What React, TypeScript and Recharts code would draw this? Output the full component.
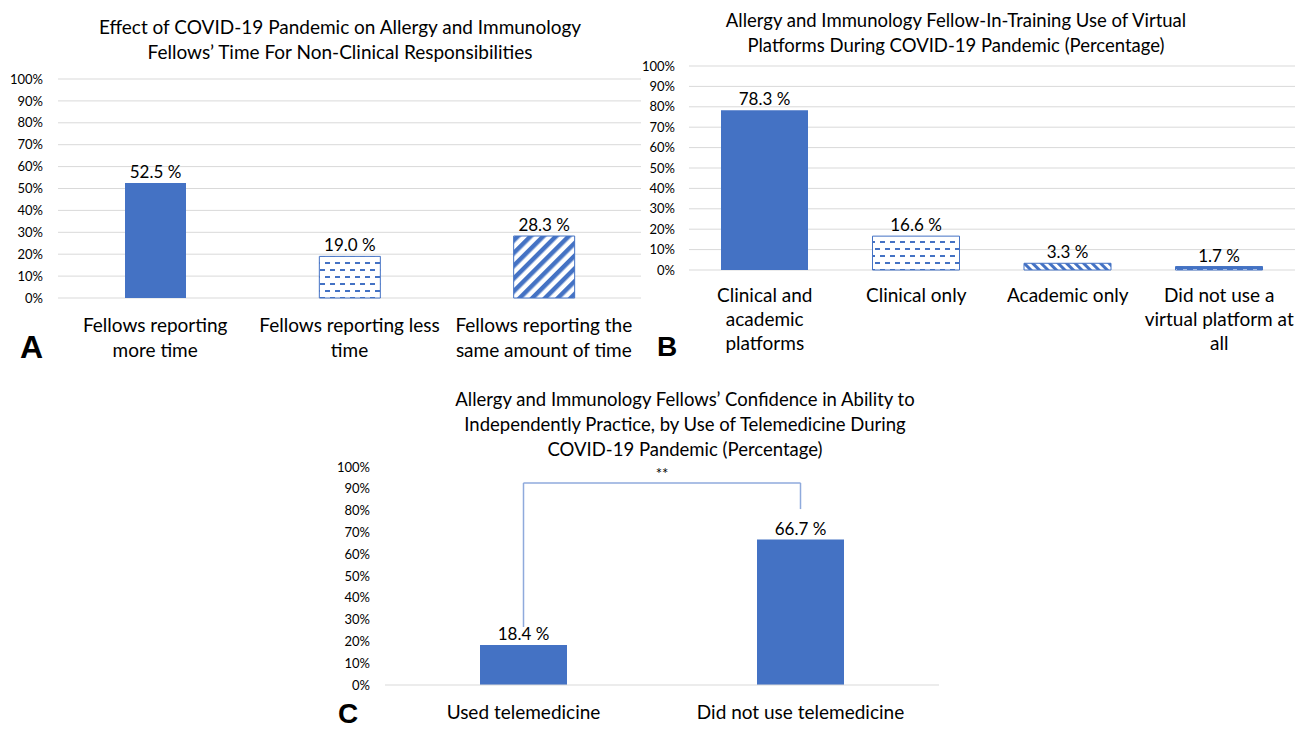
import React from 'react';
import { BarChart, Bar, XAxis, YAxis, CartesianGrid, Cell, LabelList, ReferenceLine } from 'recharts';

// Panel A
const timeLabelLines = [
  ['Fellows reporting', 'more time'],
  ['Fellows reporting less', 'time'],
  ['Fellows reporting the', 'same amount of time'],
];
const timeValues = [52.5, 19.0, 28.3];
const timeFills = ['#4472C4', 'url(#dashH)', 'url(#diagUp)'];

// Panel B
const platformLabelLines = [
  ['Clinical and', 'academic', 'platforms'],
  ['Clinical only'],
  ['Academic only'],
  ['Did not use a', 'virtual platform at', 'all'],
];
const platformValues = [78.3, 16.6, 3.3, 1.7];
const platformFills = ['#4472C4', 'url(#dashH)', 'url(#diagDown)', 'url(#blueDash)'];

// Panel C
const teleCategories = ['Used telemedicine', 'Did not use telemedicine'];
const teleValues = [18.4, 66.7];
const bracketTop = 92.7;
const bracketLeftEnd = 26.6;
const bracketRightEnd = 80.7;

const percentTicks = [0, 10, 20, 30, 40, 50, 60, 70, 80, 90, 100];

const FONT = 'Lato, "Open Sans", sans-serif';
const BLUE = '#4472C4';
const GRID = '#d9d9d9';

const timeData = timeLabelLines.map((l, i) => ({ name: l.join(' '), value: timeValues[i] }));
const platformData = platformLabelLines.map((l, i) => ({ name: l.join(' '), value: platformValues[i] }));
const teleData = teleCategories.map((c, i) => ({ name: c, value: teleValues[i] }));

const Patterns = () => (
  <defs>
    <pattern id="dashH" width="10" height="14" patternUnits="userSpaceOnUse">
      <rect width="10" height="14" fill="#fff" />
      <rect x="0" y="3" width="5" height="2" fill={BLUE} />
      <rect x="5" y="10" width="5" height="2" fill={BLUE} />
    </pattern>
    <pattern id="diagUp" width="9" height="9" patternUnits="userSpaceOnUse" patternTransform="rotate(45)">
      <rect width="9" height="9" fill="#fff" />
      <rect x="0" y="0" width="4.5" height="9" fill={BLUE} />
    </pattern>
    <pattern id="diagDown" width="6" height="6" patternUnits="userSpaceOnUse" patternTransform="rotate(-45)">
      <rect width="6" height="6" fill="#fff" />
      <rect x="0" y="0" width="3" height="6" fill={BLUE} />
    </pattern>
    <pattern id="blueDash" width="10" height="4" patternUnits="userSpaceOnUse">
      <rect width="10" height="4" fill={BLUE} />
      <rect x="3" y="1" width="4" height="2" fill="#fff" />
    </pattern>
  </defs>
);

const makeTick = (lines: string[][], firstDy: number, lineH: number) => (props: any) => {
  const { x, y, payload } = props;
  const rows = lines[payload.index] || [String(payload.value)];
  return (
    <text x={x} y={y} textAnchor="middle" fill="#000" fontSize={19} fontFamily={FONT}>
      {rows.map((r, i) => (
        <tspan key={i} x={x} dy={i === 0 ? firstDy : lineH}>{r}</tspan>
      ))}
    </text>
  );
};

const valueLabel = (v: any) => `${Number(v).toFixed(1)} %`;

const titleStyle: React.CSSProperties = {
  position: 'absolute', textAlign: 'center', fontFamily: FONT, fontSize: 18.5, lineHeight: '25px', color: '#000',
};
const letterStyle: React.CSSProperties = {
  position: 'absolute', fontFamily: '"Liberation Sans", Arial, sans-serif', fontWeight: 'bold', color: '#000', lineHeight: 1,
};
const yTick = { fontSize: 13, fill: '#000', fontFamily: FONT };

export default function App() {
  return (
    <div style={{ position: 'absolute', left: 0, top: 0, width: 1297, height: 732, background: '#fff', overflow: 'hidden' }}>
      <div style={{ ...titleStyle, left: 40, top: 14, width: 600, fontSize: 19 }}>
        Effect of COVID-19 Pandemic on Allergy and Immunology<br />Fellows’ Time For Non-Clinical Responsibilities
      </div>
      <div style={{ ...titleStyle, left: 656, top: 8, width: 600 }}>
        Allergy and Immunology Fellow-In-Training Use of Virtual<br />Platforms During COVID-19 Pandemic (Percentage)
      </div>
      <div style={{ ...titleStyle, left: 385, top: 387, width: 600 }}>
        Allergy and Immunology Fellows’ Confidence in Ability to<br />Independently Practice, by Use of Telemedicine During<br />COVID-19 Pandemic (Percentage)
      </div>

      <div style={{ position: 'absolute', left: 0, top: 0 }}>
        <BarChart width={650} height={370} data={timeData} margin={{ top: 79, right: 9, bottom: 0, left: 0 }}>
          <Patterns />
          <CartesianGrid vertical={false} stroke={GRID} />
          <XAxis dataKey="name" height={72} axisLine={false} tickLine={false} tickSize={0} tickMargin={0}
            interval={0} tick={makeTick(timeLabelLines, 34, 25)} />
          <YAxis width={58} domain={[0, 100]} ticks={percentTicks} interval={0} tickFormatter={(v) => `${v}%`}
            axisLine={false} tickLine={false} tickSize={0} tickMargin={15} tick={yTick} />
          <Bar dataKey="value" barSize={61} isAnimationActive={false}>
            {timeData.map((d, i) => (
              <Cell key={d.name} fill={timeFills[i]} stroke={i === 0 ? 'none' : BLUE} strokeWidth={1} />
            ))}
            <LabelList dataKey="value" position="top" offset={5} formatter={valueLabel}
              fill="#000" fontSize={17} fontFamily={FONT} />
          </Bar>
        </BarChart>
      </div>

      <div style={{ position: 'absolute', left: 640, top: 0 }}>
        <BarChart width={657} height={370} data={platformData} margin={{ top: 66, right: 2, bottom: 0, left: 0 }}>
          <Patterns />
          <CartesianGrid vertical={false} stroke={GRID} />
          <XAxis dataKey="name" height={100} axisLine={false} tickLine={false} tickSize={0} tickMargin={0}
            interval={0} tick={makeTick(platformLabelLines, 32, 24)} />
          <YAxis width={49} domain={[0, 100]} ticks={percentTicks} interval={0} tickFormatter={(v) => `${v}%`}
            axisLine={false} tickLine={false} tickSize={0} tickMargin={14} tick={yTick} />
          <Bar dataKey="value" barSize={87} isAnimationActive={false}>
            {platformData.map((d, i) => (
              <Cell key={d.name} fill={platformFills[i]} stroke={i === 0 ? 'none' : BLUE} strokeWidth={1} />
            ))}
            <LabelList dataKey="value" position="top" offset={5} formatter={valueLabel}
              fill="#000" fontSize={17} fontFamily={FONT} />
          </Bar>
        </BarChart>
      </div>

      <div style={{ position: 'absolute', left: 300, top: 380 }}>
        <BarChart width={650} height={352} data={teleData} margin={{ top: 87, right: 11, bottom: 0, left: 0 }}>
          <XAxis dataKey="name" height={47} axisLine={{ stroke: GRID }} tickLine={false} tickSize={0} tickMargin={0}
            interval={0} tick={makeTick(teleCategories.map((c) => [c]), 34, 25)} />
          <YAxis width={85} domain={[0, 100]} ticks={percentTicks} interval={0} tickFormatter={(v) => `${v}%`}
            axisLine={false} tickLine={false} tickSize={0} tickMargin={15} tick={yTick} />
          <Bar dataKey="value" barSize={87} fill={BLUE} isAnimationActive={false}>
            <LabelList dataKey="value" position="top" offset={5} formatter={valueLabel}
              fill="#000" fontSize={17} fontFamily={FONT} />
          </Bar>
          <ReferenceLine segment={[{ x: teleCategories[0], y: bracketLeftEnd }, { x: teleCategories[0], y: bracketTop }]}
            stroke="#8faadc" strokeWidth={1.5} />
          <ReferenceLine segment={[{ x: teleCategories[1], y: bracketRightEnd }, { x: teleCategories[1], y: bracketTop }]}
            stroke="#8faadc" strokeWidth={1.5} />
          <ReferenceLine segment={[{ x: teleCategories[0], y: bracketTop }, { x: teleCategories[1], y: bracketTop }]}
            stroke="#8faadc" strokeWidth={1.5}
            label={{ value: '**', position: 'top', fill: '#000', fontSize: 15, fontFamily: FONT, offset: 4 }} />
        </BarChart>
      </div>

      <div style={{ ...letterStyle, left: 20, top: 331, fontSize: 32 }}>A</div>
      <div style={{ ...letterStyle, left: 657, top: 333, fontSize: 28 }}>B</div>
      <div style={{ ...letterStyle, left: 338, top: 700, fontSize: 28 }}>C</div>
    </div>
  );
}
